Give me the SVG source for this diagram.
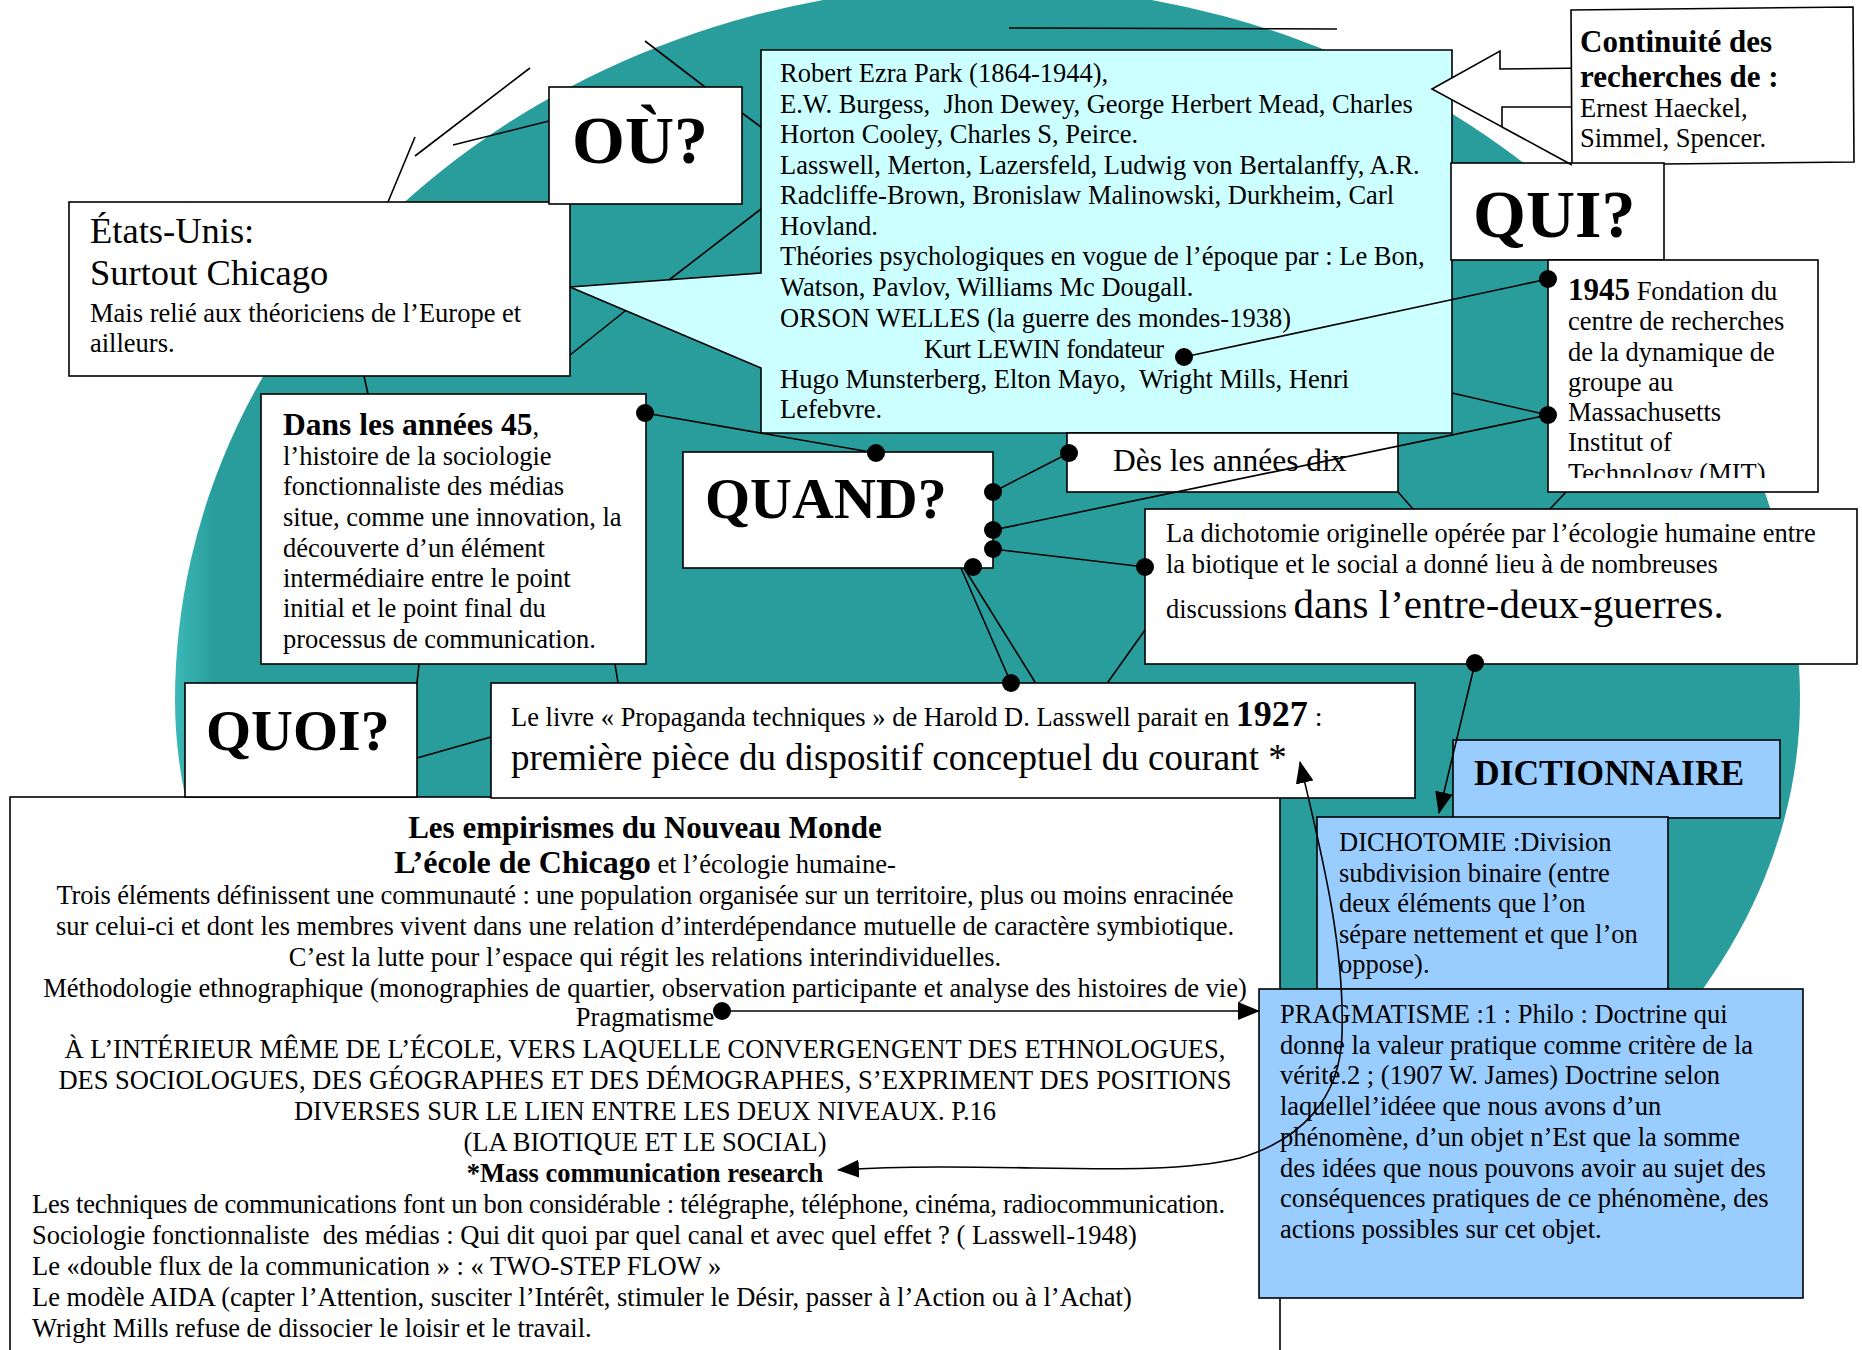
<svg xmlns="http://www.w3.org/2000/svg" width="1862" height="1350" viewBox="0 0 1862 1350">
<defs>
<style>
svg{font-family:"Liberation Serif","Times New Roman",serif;font-size:26.5px}
text{fill:#000}
.bd{font-weight:bold}
.box{fill:#fff;stroke:#000;stroke-width:1.6}
.cyan{fill:#ccffff;stroke:#000;stroke-width:1.6}
.blue{fill:#99ccff;stroke:#000;stroke-width:1.6}
.ln{stroke:#000;stroke-width:1.6;fill:none}
.dot{fill:#000}
</style>
<linearGradient id="teal" gradientUnits="userSpaceOnUse" x1="175" y1="0" x2="215" y2="0">
<stop offset="0" stop-color="#3bb8b6"/>
<stop offset="1" stop-color="#299d9b"/>
</linearGradient>
<marker id="ah" viewBox="0 0 22 18" refX="21" refY="9" markerWidth="22" markerHeight="18" markerUnits="userSpaceOnUse" orient="auto-start-reverse"><path d="M0,0 L22,9 L0,18 Z" fill="#000"/></marker>
<clipPath id="mitclip"><rect x="1548" y="260" width="270" height="218"/></clipPath>
</defs>
<rect width="1862" height="1350" fill="#fff"/>
<path id="globe" d="M175,700 A812.5 715 0 0 1 1800,700 A812.5 610 0 0 1 175,700 Z" fill="url(#teal)"/>

<g id="node-ecole">
<rect class="box" x="10" y="797" width="1270" height="600"/>
<text x="645" y="838" text-anchor="middle" class="bd" font-size="31">Les empirismes du Nouveau Monde</text>
<text x="645" y="873" text-anchor="middle"><tspan class="bd" font-size="32">L’école de Chicago</tspan><tspan> et l’écologie humaine-</tspan></text>
<text x="645" y="904" text-anchor="middle" textLength="1177">Trois éléments définissent une communauté : une population organisée sur un territoire, plus ou moins enracinée</text>
<text x="645" y="935" text-anchor="middle">sur celui-ci et dont les membres vivent dans une relation d’interdépendance mutuelle de caractère symbiotique.</text>
<text x="645" y="966" text-anchor="middle">C’est la lutte pour l’espace qui régit les relations interindividuelles.</text>
<text x="645" y="997" text-anchor="middle">Méthodologie ethnographique (monographies de quartier, observation participante et analyse des histoires de vie)</text>
<text x="645" y="1026" text-anchor="middle">Pragmatisme</text>
<text x="645" y="1058" text-anchor="middle">À L’INTÉRIEUR MÊME DE L’ÉCOLE, VERS LAQUELLE CONVERGENGENT DES ETHNOLOGUES,</text>
<text x="645" y="1089" text-anchor="middle">DES SOCIOLOGUES, DES GÉOGRAPHES ET DES DÉMOGRAPHES, S’EXPRIMENT DES POSITIONS</text>
<text x="645" y="1120" text-anchor="middle">DIVERSES SUR LE LIEN ENTRE LES DEUX NIVEAUX. P.16</text>
<text x="645" y="1151" text-anchor="middle">(LA BIOTIQUE ET LE SOCIAL)</text>
<text x="645" y="1182" text-anchor="middle" class="bd">*Mass communication research</text>
<text x="32" y="1213" textLength="1193">Les techniques de communications font un bon considérable : télégraphe, téléphone, cinéma, radiocommunication.</text>
<text x="32" y="1244">Sociologie fonctionnaliste&#160; des médias : Qui dit quoi par quel canal et avec quel effet ? ( Lasswell-1948)</text>
<text x="32" y="1275">Le «double flux de la communication » : « TWO-STEP FLOW »</text>
<text x="32" y="1306">Le modèle AIDA (capter l’Attention, susciter l’Intérêt, stimuler le Désir, passer à l’Action ou à l’Achat)</text>
<text x="32" y="1337">Wright Mills refuse de dissocier le loisir et le travail.</text>
</g>

<g id="node-quoi">
<rect class="box" x="185" y="683" width="232" height="114"/>
<text x="206" y="750" class="bd" font-size="58">QUOI?</text>
</g>

<g id="node-lasswell">
<rect class="box" x="491" y="683" width="924" height="115"/>
<text x="511" y="726">Le livre « Propaganda techniques » de Harold D. Lasswell parait en <tspan class="bd" font-size="36">1927</tspan><tspan font-size="28"> :</tspan></text>
<text x="511" y="770" font-size="37">première pièce du dispositif conceptuel du courant *</text>
</g>

<g id="node-dans">
<rect class="box" x="261" y="394" width="385" height="270"/>
<text x="283" y="435"><tspan class="bd" font-size="31.5">Dans les années 45</tspan>,</text>
<text x="283" y="465">l’histoire de la sociologie</text>
<text x="283" y="495">fonctionnaliste des médias</text>
<text x="283" y="526">situe, comme une innovation, la</text>
<text x="283" y="557">découverte d’un élément</text>
<text x="283" y="587">intermédiaire entre le point</text>
<text x="283" y="617">initial et le point final du</text>
<text x="283" y="648">processus de communication.</text>
</g>

<g id="node-etats-unis">
<rect class="box" x="69" y="202" width="501" height="174"/>
<text x="90" y="243" font-size="36.5">États-Unis:</text>
<text x="90" y="285" font-size="36.5">Surtout Chicago</text>
<text x="90" y="322">Mais relié aux théoriciens de l’Europe et</text>
<text x="90" y="352">ailleurs.</text>
</g>

<g id="node-ou">
<rect class="box" x="549" y="87" width="193" height="117"/>
<text x="572" y="163" class="bd" font-size="68">OÙ?</text>
</g>

<g id="node-park">
<path class="cyan" d="M761,50 L1452,50 L1452,433 L761,433 L761,368 L570,287 L761,273 Z"/>
<text x="780" y="82">Robert Ezra Park (1864-1944),</text>
<text x="780" y="113">E.W. Burgess,&#160; Jhon Dewey, George Herbert Mead, Charles</text>
<text x="780" y="143">Horton Cooley, Charles S, Peirce.</text>
<text x="780" y="174">Lasswell, Merton, Lazersfeld, Ludwig von Bertalanffy, A.R.</text>
<text x="780" y="204">Radcliffe-Brown, Bronislaw Malinowski, Durkheim, Carl</text>
<text x="780" y="235">Hovland.</text>
<text x="780" y="265">Théories psychologiques en vogue de l’époque par : Le Bon,</text>
<text x="780" y="296">Watson, Pavlov, Williams Mc Dougall.</text>
<text x="780" y="327">ORSON WELLES (la guerre des mondes-1938)</text>
<text x="924" y="358" textLength="240">Kurt LEWIN fondateur</text>
<text x="780" y="388">Hugo Munsterberg, Elton Mayo,&#160; Wright Mills, Henri</text>
<text x="780" y="418">Lefebvre.</text>
</g>

<g id="node-continuite">
<path class="box" d="M1432,89 L1500,51 L1500,69 L1590,68 L1590,107 L1502,107 L1502,127 Z"/>
<polygon class="box" points="1571,10 1853,7 1854,162 1572,165"/>
<text x="1580" y="52" class="bd" font-size="31">Continuité des</text>
<text x="1580" y="87" class="bd" font-size="31">recherches de :</text>
<text x="1580" y="117">Ernest Haeckel,</text>
<text x="1580" y="147">Simmel, Spencer.</text>
</g>

<g id="node-qui">
<rect class="box" x="1451" y="163" width="213" height="97"/>
<text x="1473" y="237" class="bd" font-size="68">QUI?</text>
</g>

<g id="node-mit">
<rect class="box" x="1548" y="260" width="270" height="232"/>
<g clip-path="url(#mitclip)">
<text x="1568" y="300"><tspan class="bd" font-size="31">1945</tspan> Fondation du</text>
<text x="1568" y="330">centre de recherches</text>
<text x="1568" y="361">de la dynamique de</text>
<text x="1568" y="391">groupe au</text>
<text x="1568" y="421">Massachusetts</text>
<text x="1568" y="451">Institut of</text>
<text x="1568" y="482">Technology (MIT)</text>
</g>
</g>

<g id="node-des">
<rect class="box" x="1067" y="433" width="331" height="59"/>
<text x="1113" y="471" font-size="31.5">Dès les années dix</text>
</g>

<g id="node-quand">
<rect class="box" x="683" y="452" width="310" height="116"/>
<text x="705" y="518" class="bd" font-size="58">QUAND?</text>
</g>

<g id="node-dichotomie-originelle">
<rect class="box" x="1145" y="509" width="712" height="155"/>
<text x="1166" y="542">La dichotomie originelle opérée par l’écologie humaine entre</text>
<text x="1166" y="573">la biotique et le social a donné lieu à de nombreuses</text>
<text x="1166" y="618">discussions <tspan font-size="41">dans l’entre-deux-guerres.</tspan></text>
</g>

<g id="node-dictionnaire">
<rect class="blue" x="1453" y="740" width="327" height="78"/>
<text x="1474" y="785" class="bd" font-size="35.5">DICTIONNAIRE</text>
</g>

<g id="node-dichotomie">
<rect class="blue" x="1317" y="817" width="351" height="172"/>
<text x="1339" y="851">DICHOTOMIE :Division</text>
<text x="1339" y="882">subdivision binaire (entre</text>
<text x="1339" y="912">deux éléments que l’on</text>
<text x="1339" y="943">sépare nettement et que l’on</text>
<text x="1339" y="973">oppose).</text>
</g>

<g id="node-pragmatisme">
<rect class="blue" x="1259" y="989" width="544" height="309"/>
<text x="1280" y="1023">PRAGMATISME :1 : Philo : Doctrine qui</text>
<text x="1280" y="1054">donne la valeur pratique comme critère de la</text>
<text x="1280" y="1084">vérité.2 ; (1907 W. James) Doctrine selon</text>
<text x="1280" y="1115">laquellel’idéee que nous avons d’un</text>
<text x="1280" y="1146">phénomène, d’un objet n’Est que la somme</text>
<text x="1280" y="1177">des idées que nous pouvons avoir au sujet des</text>
<text x="1280" y="1207">conséquences pratiques de ce phénomène, des</text>
<text x="1280" y="1238">actions possibles sur cet objet.</text>
</g>

<g id="connectors">
<line class="ln" x1="645" y1="413" x2="876" y2="453"/>
<line class="ln" x1="1069" y1="453" x2="993" y2="492"/>
<line class="ln" x1="993" y1="530" x2="1548" y2="415"/>
<line class="ln" x1="993" y1="549" x2="1145" y2="567"/>
<line class="ln" x1="961" y1="568" x2="1011" y2="683"/>
<line class="ln" x1="964" y1="568" x2="1035" y2="682"/>
<line class="ln" x1="1184" y1="357" x2="1548" y2="279"/>
<line class="ln" x1="1452" y1="393" x2="1548" y2="415"/>
<line class="ln" x1="1145" y1="630" x2="1108" y2="682"/>
<line class="ln" x1="1398" y1="492" x2="1413" y2="509"/>
<line class="ln" x1="1566" y1="492" x2="1550" y2="509"/>
<line class="ln" x1="419" y1="664" x2="417" y2="683"/>
<line class="ln" x1="615" y1="664" x2="618" y2="683"/>
<line class="ln" x1="417" y1="758" x2="491" y2="737"/>
<line class="ln" x1="364" y1="376" x2="368" y2="394"/>
<line class="ln" x1="570" y1="355" x2="625" y2="311"/>
<line class="ln" x1="669" y1="280" x2="761" y2="209"/>
<line class="ln" x1="742" y1="113" x2="761" y2="127"/>
<line class="ln" x1="645" y1="41" x2="705" y2="87"/>
<line class="ln" x1="453" y1="145" x2="549" y2="121"/>
<line class="ln" x1="530" y1="68" x2="415" y2="156"/>
<line class="ln" x1="415" y1="137" x2="388" y2="202"/>
<line class="ln" x1="1009" y1="28" x2="1337" y2="29"/>
<line class="ln" x1="1502" y1="127" x2="1572" y2="165"/>
<line class="ln" x1="1475" y1="663" x2="1439" y2="813" marker-end="url(#ah)"/>
<line class="ln" x1="722" y1="1011" x2="1259" y2="1011" marker-end="url(#ah)"/>
<path class="ln" d="M1300,762 C1318,840 1345,940 1342,1035 C1340,1100 1300,1140 1240,1158 C1150,1180 1000,1160 838,1170" marker-start="url(#ah)" marker-end="url(#ah)"/>
<circle class="dot" cx="645" cy="413" r="9"/>
<circle class="dot" cx="876" cy="453" r="9"/>
<circle class="dot" cx="1069" cy="453" r="9"/>
<circle class="dot" cx="993" cy="492" r="9"/>
<circle class="dot" cx="993" cy="530" r="9"/>
<circle class="dot" cx="993" cy="549" r="9"/>
<circle class="dot" cx="973" cy="567" r="9"/>
<circle class="dot" cx="1011" cy="683" r="9"/>
<circle class="dot" cx="1145" cy="567" r="9"/>
<circle class="dot" cx="1184" cy="357" r="9"/>
<circle class="dot" cx="1548" cy="279" r="9"/>
<circle class="dot" cx="1548" cy="415" r="9"/>
<circle class="dot" cx="1475" cy="663" r="9"/>
<circle class="dot" cx="722" cy="1011" r="9"/>
</g>
</svg>
